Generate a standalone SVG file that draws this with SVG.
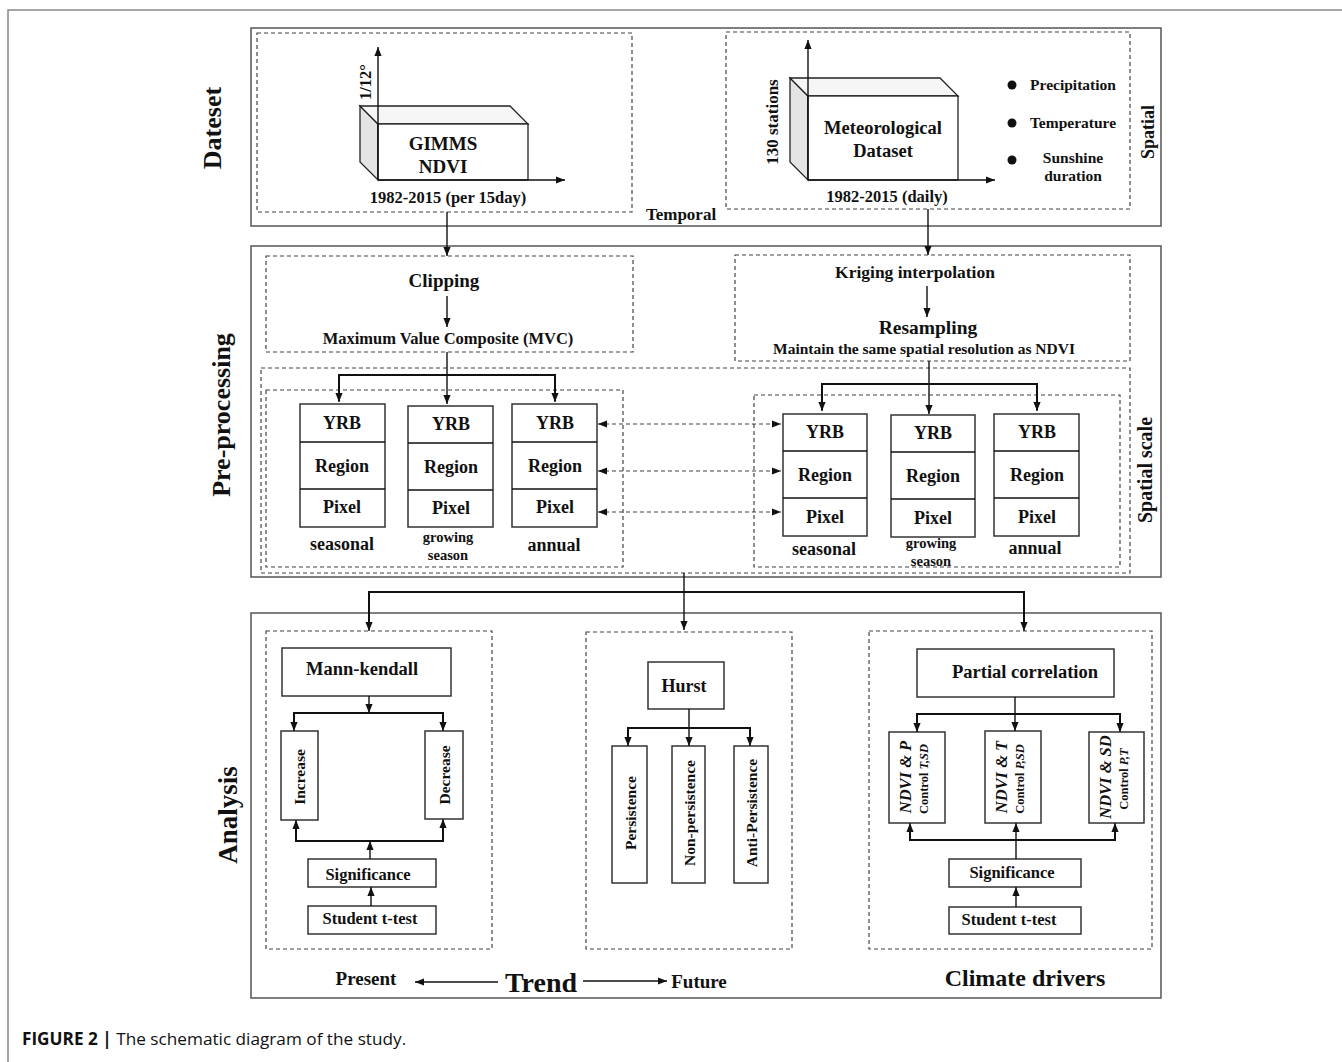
<svg xmlns="http://www.w3.org/2000/svg" width="1342" height="1062" viewBox="0 0 1342 1062">
<defs>
<marker id="ah" viewBox="0 0 10 8" markerWidth="9" markerHeight="8" refX="10" refY="4" orient="auto-start-reverse" markerUnits="userSpaceOnUse">
<path d="M0,0 L10,4 L0,8 z" fill="#111"/>
</marker>
<style>
text{font-family:"Liberation Serif","Times New Roman",serif;font-weight:bold;fill:#111;text-anchor:middle;dominant-baseline:central}
.sec{fill:none;stroke:#555;stroke-width:1.5}
.dash{fill:none;stroke:#444;stroke-width:1.2;stroke-dasharray:4 3}
.box{fill:#fff;stroke:#333;stroke-width:1.5}
.ln{fill:none;stroke:#111;stroke-width:1.4}
.bar{fill:none;stroke:#111;stroke-width:2}
.arr{fill:none;stroke:#111;stroke-width:1.4;marker-end:url(#ah)}
.darr{fill:none;stroke:#444;stroke-width:1.2;stroke-dasharray:4 3;marker-start:url(#ah);marker-end:url(#ah)}
.cap{font-family:"Open Sans","Liberation Sans",Arial,sans-serif;text-anchor:start;dominant-baseline:alphabetic}
.it{font-style:italic}
</style>
</defs>
<rect width="1342" height="1062" fill="#fff"/>
<path d="M8,1062 V10 H1342" fill="none" stroke="#888" stroke-width="1.5"/>

<!-- section frames -->
<g id="section-dataset">
<rect class="sec" x="251" y="28" width="910" height="198"/>
<text x="212" y="128" font-size="26" transform="rotate(-90 212 128)">Dateset</text>
<text x="681" y="214" font-size="17">Temporal</text>
<text x="1148" y="132" font-size="18" transform="rotate(-90 1148 132)">Spatial</text>
</g>
<g id="section-preprocessing">
<rect class="sec" x="251" y="246" width="910" height="331"/>
<text x="221" y="415" font-size="26" transform="rotate(-90 221 415)">Pre-processing</text>
<text x="1145" y="470" font-size="20" transform="rotate(-90 1145 470)">Spatial scale</text>
</g>
<g id="section-analysis">
<rect class="sec" x="251" y="613" width="910" height="385"/>
<text x="228" y="815" font-size="27" transform="rotate(-90 228 815)">Analysis</text>
</g>

<!-- Dataset: GIMMS NDVI -->
<g id="gimms">
<rect class="dash" x="257" y="33" width="375" height="179"/>
<polygon points="360,106 378,124 378,180 360,162" fill="#e4e4e4" stroke="#222" stroke-width="1.3"/>
<polygon points="360,106 510,106 528,124 378,124" fill="#f6f6f6" stroke="#222" stroke-width="1.3"/>
<rect x="378" y="124" width="150" height="56" fill="#fff" stroke="#222" stroke-width="1.3"/>
<text x="443" y="143" font-size="19">GIMMS</text>
<text x="443" y="166" font-size="19">NDVI</text>
<text x="365" y="82" font-size="16.5" transform="rotate(-90 365 82)">1/12°</text>
<text x="448" y="197" font-size="16.5">1982-2015 (per 15day)</text>
</g>

<!-- Dataset: Meteorological -->
<g id="meteo">
<rect class="dash" x="726" y="32" width="404" height="177"/>
<polygon points="790,78 808,96 808,180 790,162" fill="#e4e4e4" stroke="#222" stroke-width="1.3"/>
<polygon points="790,78 940,78 958,96 808,96" fill="#f6f6f6" stroke="#222" stroke-width="1.3"/>
<rect x="808" y="96" width="150" height="84" fill="#fff" stroke="#222" stroke-width="1.3"/>
<text x="883" y="128" font-size="18.5">Meteorological</text>
<text x="883" y="151" font-size="18.5">Dataset</text>
<text x="772" y="122" font-size="17" transform="rotate(-90 772 122)">130 stations</text>
<text x="887" y="196" font-size="16.5">1982-2015 (daily)</text>
<circle cx="1012" cy="85" r="4.5" fill="#111"/>
<circle cx="1012" cy="123" r="4.5" fill="#111"/>
<circle cx="1012" cy="160" r="4.5" fill="#111"/>
<text x="1073" y="84" font-size="15.5">Precipitation</text>
<text x="1073" y="122" font-size="15.5">Temperature</text>
<text x="1073" y="157" font-size="15.5">Sunshine</text>
<text x="1073" y="175" font-size="15.5">duration</text>
</g>

<!-- Pre-processing: Clipping -->
<g id="clipping">
<rect class="dash" x="266" y="256" width="367" height="96"/>
<text x="444" y="280" font-size="19">Clipping</text>
<text x="448" y="338" font-size="16.5">Maximum Value Composite  (MVC)</text>
</g>
<g id="kriging">
<rect class="dash" x="735" y="255" width="395" height="106"/>
<text x="915" y="272" font-size="17.5">Kriging interpolation</text>
<text x="928" y="327" font-size="19.5">Resampling</text>
<text x="924" y="348" font-size="15.5">Maintain the same spatial resolution as NDVI</text>
</g>

<g id="spatial-scale">
<rect class="dash" x="261" y="368" width="869" height="205"/>
</g>

<!-- NDVI columns -->
<g id="ndvi-scales">
<rect class="dash" x="266" y="390" width="357" height="177"/>
<rect class="box" x="300" y="404" width="85" height="123"/>
<path class="ln" d="M300,442 H385 M300,489 H385"/>
<text x="342" y="423" font-size="18">YRB</text>
<text x="342" y="466" font-size="18">Region</text>
<text x="342" y="507" font-size="18">Pixel</text>
<text x="342" y="544" font-size="18">seasonal</text>
<rect class="box" x="408" y="406" width="85" height="121"/>
<path class="ln" d="M408,443 H493 M408,490 H493"/>
<text x="451" y="424" font-size="18">YRB</text>
<text x="451" y="467" font-size="18">Region</text>
<text x="451" y="508" font-size="18">Pixel</text>
<text x="448" y="537" font-size="14.5">growing</text>
<text x="448" y="555" font-size="14.5">season</text>
<rect class="box" x="512" y="404" width="85" height="123"/>
<path class="ln" d="M512,442 H597 M512,489 H597"/>
<text x="555" y="423" font-size="18">YRB</text>
<text x="555" y="466" font-size="18">Region</text>
<text x="555" y="507" font-size="18">Pixel</text>
<text x="554" y="545" font-size="18">annual</text>
</g>

<g id="meteo-scales">
<rect class="dash" x="754" y="395" width="366" height="172"/>
<rect class="box" x="783" y="414" width="84" height="122"/>
<path class="ln" d="M783,451 H867 M783,498 H867"/>
<text x="825" y="432" font-size="18">YRB</text>
<text x="825" y="475" font-size="18">Region</text>
<text x="825" y="517" font-size="18">Pixel</text>
<text x="824" y="549" font-size="18">seasonal</text>
<rect class="box" x="891" y="415" width="84" height="122"/>
<path class="ln" d="M891,452 H975 M891,499 H975"/>
<text x="933" y="433" font-size="18">YRB</text>
<text x="933" y="476" font-size="18">Region</text>
<text x="933" y="518" font-size="18">Pixel</text>
<text x="931" y="543" font-size="14.5">growing</text>
<text x="931" y="561" font-size="14.5">season</text>
<rect class="box" x="994" y="414" width="85" height="122"/>
<path class="ln" d="M994,451 H1079 M994,498 H1079"/>
<text x="1037" y="432" font-size="18">YRB</text>
<text x="1037" y="475" font-size="18">Region</text>
<text x="1037" y="517" font-size="18">Pixel</text>
<text x="1035" y="548" font-size="18">annual</text>
</g>

<!-- Analysis: Trend -->
<g id="trend">
<rect class="dash" x="266" y="631" width="226" height="318"/>
<rect class="box" x="282" y="648" width="169" height="48"/>
<text x="362" y="669" font-size="18.5">Mann-kendall</text>
<rect class="box" x="281" y="731" width="37" height="89"/>
<text x="299" y="777" font-size="15.5" transform="rotate(-90 299 777)">Increase</text>
<rect class="box" x="425" y="731" width="38" height="88"/>
<text x="444" y="775" font-size="15.5" transform="rotate(-90 444 775)">Decrease</text>
<rect class="box" x="308" y="859" width="128" height="28"/>
<text x="368" y="874" font-size="16.5">Significance</text>
<rect class="box" x="308" y="906" width="128" height="28"/>
<text x="370" y="918" font-size="16.5">Student t-test</text>
</g>

<g id="hurst">
<rect class="dash" x="586" y="632" width="206" height="317"/>
<rect class="box" x="648" y="662" width="76" height="47"/>
<text x="684" y="686" font-size="18">Hurst</text>
<rect class="box" x="612" y="746" width="35" height="137"/>
<text x="630" y="813" font-size="15.5" transform="rotate(-90 630 813)">Persistence</text>
<rect class="box" x="672" y="746" width="33" height="137"/>
<text x="689" y="813" font-size="15.5" transform="rotate(-90 689 813)">Non-persistence</text>
<rect class="box" x="734" y="746" width="34" height="137"/>
<text x="751" y="813" font-size="15.5" transform="rotate(-90 751 813)">Anti-Persistence</text>
</g>

<g id="climate">
<rect class="dash" x="869" y="631" width="283" height="318"/>
<rect class="box" x="917" y="649" width="197" height="48"/>
<text x="1025" y="672" font-size="18.5">Partial correlation</text>
<rect class="box" x="889" y="732" width="56" height="91"/>
<text x="905" y="777" font-size="16.5" transform="rotate(-90 905 777)"><tspan class="it">NDVI &amp; P</tspan></text>
<text x="924" y="779" font-size="12.5" transform="rotate(-90 924 779)">Control <tspan class="it">T,SD</tspan></text>
<rect class="box" x="985" y="731" width="56" height="92"/>
<text x="1001" y="777" font-size="16.5" transform="rotate(-90 1001 777)"><tspan class="it">NDVI &amp; T</tspan></text>
<text x="1020" y="779" font-size="12.5" transform="rotate(-90 1020 779)">Control <tspan class="it">P,SD</tspan></text>
<rect class="box" x="1089" y="732" width="55" height="91"/>
<text x="1105" y="777" font-size="16.5" transform="rotate(-90 1105 777)"><tspan class="it">NDVI &amp; SD</tspan></text>
<text x="1124" y="779" font-size="12.5" transform="rotate(-90 1124 779)">Control <tspan class="it">P,T</tspan></text>
<rect class="box" x="949" y="859" width="132" height="28"/>
<text x="1012" y="872" font-size="16.5">Significance</text>
<rect class="box" x="949" y="907" width="132" height="27"/>
<text x="1009" y="919" font-size="16.5">Student t-test</text>
</g>

<g id="footer-labels">
<text x="366" y="978" font-size="19">Present</text>
<text x="541" y="982" font-size="28">Trend</text>
<text x="699" y="981" font-size="19">Future</text>
<text x="1025" y="978" font-size="24">Climate drivers</text>
</g>

<!-- connectors -->
<g id="connectors">
<path class="arr" d="M378,180 V47"/>
<path class="arr" d="M378,180 H565"/>
<path class="arr" d="M808,180 V40"/>
<path class="arr" d="M808,180 H995"/>
<path class="arr" d="M447,212 V256"/>
<path class="arr" d="M928,209 V255"/>
<path class="arr" d="M447,296 V327"/>
<path class="arr" d="M927,286 V317"/>
<path class="arr" d="M447,352 V404"/>
<path class="bar" d="M339,401 V375 H555 V401"/>
<path class="arr" d="M339,376 V402"/>
<path class="arr" d="M555,376 V402"/>
<path class="arr" d="M929,361 V414"/>
<path class="bar" d="M822,410 V384 H1037 V410"/>
<path class="arr" d="M822,385 V411"/>
<path class="arr" d="M1037,385 V411"/>
<path class="darr" d="M598,424 H781"/>
<path class="darr" d="M598,471 H781"/>
<path class="darr" d="M598,512 H781"/>
<path class="arr" d="M684,573 V630"/>
<path class="bar" d="M369,628 V592 H1024 V628"/>
<path class="arr" d="M369,593 V631"/>
<path class="arr" d="M1024,593 V631"/>
<path class="arr" d="M369,696 V713"/>
<path class="bar" d="M294,729 V713 H443 V729"/>
<path class="arr" d="M294,714 V731"/>
<path class="arr" d="M443,714 V731"/>
<path class="bar" d="M296,822 V841 H443 V822"/>
<path class="arr" d="M296,840 V820"/>
<path class="arr" d="M443,840 V819"/>
<path class="arr" d="M370,859 V841"/>
<path class="arr" d="M371,906 V887"/>
<path class="arr" d="M689,709 V746"/>
<path class="bar" d="M628,744 V728 H750 V744"/>
<path class="arr" d="M628,729 V746"/>
<path class="arr" d="M750,729 V746"/>
<path class="arr" d="M1015,697 V731"/>
<path class="bar" d="M917,730 V714 H1120 V730"/>
<path class="arr" d="M917,715 V732"/>
<path class="arr" d="M1120,715 V732"/>
<path class="bar" d="M910,825 V840 H1115 V825"/>
<path class="arr" d="M910,839 V823"/>
<path class="arr" d="M1115,839 V823"/>
<path class="arr" d="M1016,859 V823"/>
<path class="arr" d="M1016,907 V887"/>
<path class="arr" d="M498,982 H415"/>
<path class="arr" d="M583,981 H667"/>
</g>

<text class="cap" x="22" y="1045" font-size="17.2"><tspan font-weight="bold">FIGURE 2 | </tspan><tspan font-weight="normal">The schematic diagram of the study.</tspan></text>
</svg>
